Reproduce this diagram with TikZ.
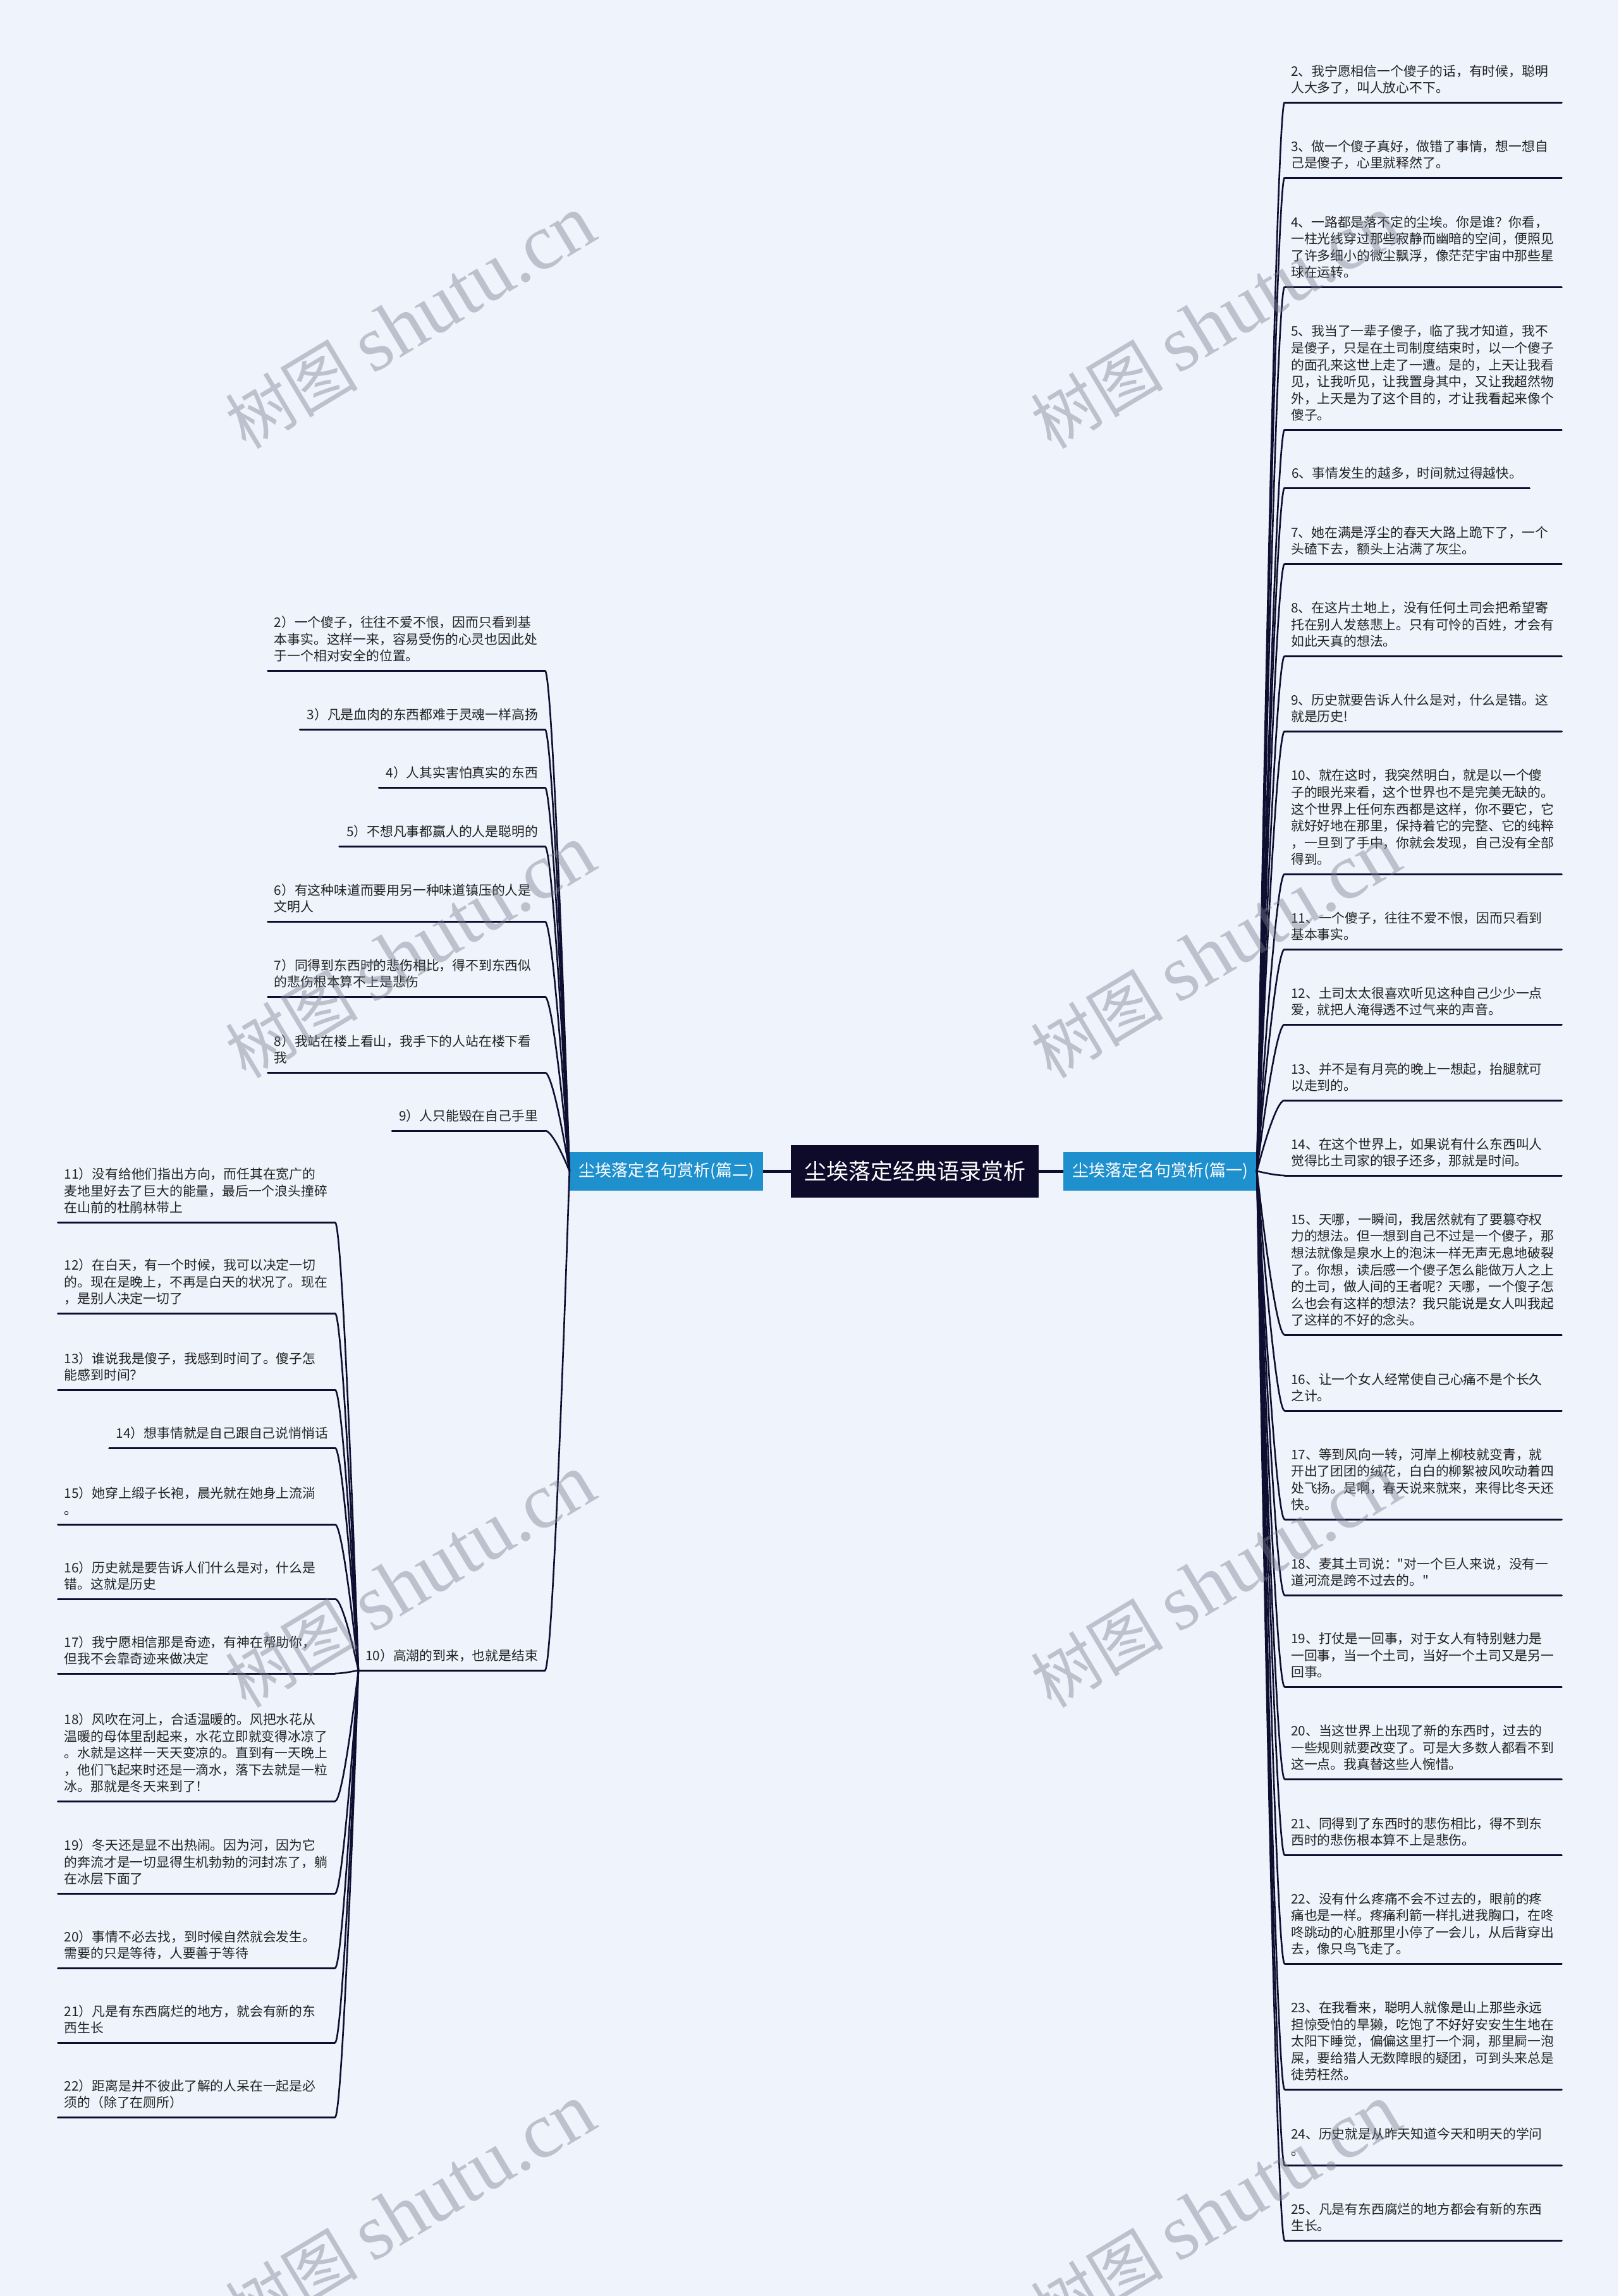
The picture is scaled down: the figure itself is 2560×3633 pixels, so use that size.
\documentclass[tikz,border=0pt]{standalone}
\usepackage{fontspec}
\setmainfont{Noto Sans CJK SC}
\newfontfamily\qfont{Noto Sans CJK SC}[Ligatures=TeXOff]
\newfontfamily\wmserif{Liberation Serif}
\usetikzlibrary{calc}
\definecolor{bgc}{RGB}{238,243,252}
\definecolor{navy}{RGB}{16,14,48}
\definecolor{titlec}{RGB}{14,10,42}
\definecolor{bluebox}{RGB}{30,144,206}
\definecolor{txt}{RGB}{34,34,34}
\definecolor{wm}{RGB}{120,126,140}
\newcommand\itemfont{\fontsize{20.8}{26.6}\selectfont}
\newcommand\sq{{\qfont"}}
\newcommand\mmconn[2]{\draw[conn] let \p1=(#1), \p2=(#2) in (\p1) .. controls ({\x1+0.2*(\x2-\x1)},{\y1+0.3*(\y2-\y1)}) and ({\x2-0.3*(\x2-\x1)},{\y2}) .. (\p2);}
\tikzset{
 ritem/.style={anchor=south west, inner xsep=11pt, inner ysep=7pt, align=left, font=\itemfont, text=txt, execute at end node=\strut},
 litem/.style={ritem, anchor=south east},
 wide/.style={text width=418pt, inner xsep=10pt},
 uline/.style={draw=navy, line width=3pt, line cap=round},
 conn/.style={draw=navy, line width=2.6pt},
 mainline/.style={draw=navy, line width=5pt},
 titlebox/.style={fill=titlec, text=white, minimum width=392pt, minimum height=83pt, inner sep=0pt, font=\fontsize{35}{40}\selectfont},
 branchbox/.style={fill=bluebox, text=white, minimum width=306pt, minimum height=61pt, inner sep=0pt, font=\fontsize{26}{30}\selectfont},
 wmark/.style={rotate=31, text=wm, opacity=0.42, font=\fontsize{105}{110}\selectfont, inner sep=0pt}
}
\begin{document}
\begin{tikzpicture}[x=1pt,y=-1pt]
\fill[bgc] (0,0) rectangle (2560,3633);
\useasboundingbox (0,0) rectangle (2560,3633);

% central nodes
\node[titlebox] (c) at (1447,1853) {尘埃落定经典语录赏析};
\node[branchbox] (n1) at (1835,1853) {尘埃落定名句赏析(篇一)};
\node[branchbox] (n2) at (1054,1853) {尘埃落定名句赏析(篇二)};
\draw[mainline] (c.west) -- (n2.east);
\draw[mainline] (c.east) -- (n1.west);

% right items
\node[ritem,wide] (r2) at (2032,162) {2、我宁愿相信一个傻子的话，有时候，聪明\\人大多了，叫人放心不下。};
\node[ritem,wide] (r3) at (2032,281) {3、做一个傻子真好，做错了事情，想一想自\\己是傻子，心里就释然了。};
\node[ritem,wide] (r4) at (2032,454) {4、一路都是落不定的尘埃。你是谁？你看，\\一柱光线穿过那些寂静而幽暗的空间，便照见\\了许多细小的微尘飘浮，像茫茫宇宙中那些星\\球在运转。};
\node[ritem,wide] (r5) at (2032,680) {5、我当了一辈子傻子，临了我才知道，我不\\是傻子，只是在土司制度结束时，以一个傻子\\的面孔来这世上走了一遭。是的，上天让我看\\见，让我听见，让我置身其中，又让我超然物\\外，上天是为了这个目的，才让我看起来像个\\傻子。};
\node[ritem] (r6) at (2032,772) {6、事情发生的越多，时间就过得越快。};
\node[ritem,wide] (r7) at (2032,892) {7、她在满是浮尘的春天大路上跪下了，一个\\头磕下去，额头上沾满了灰尘。};
\node[ritem,wide] (r8) at (2032,1038) {8、在这片土地上，没有任何土司会把希望寄\\托在别人发慈悲上。只有可怜的百姓，才会有\\如此天真的想法。};
\node[ritem,wide] (r9) at (2032,1157) {9、历史就要告诉人什么是对，什么是错。这\\就是历史!};
\node[ritem,wide] (r10) at (2032,1383) {10、就在这时，我突然明白，就是以一个傻\\子的眼光来看，这个世界也不是完美无缺的。\\这个世界上任何东西都是这样，你不要它，它\\就好好地在那里，保持着它的完整、它的纯粹\\，一旦到了手中，你就会发现，自己没有全部\\得到。};
\node[ritem,wide] (r11) at (2032,1502) {11、一个傻子，往往不爱不恨，因而只看到\\基本事实。};
\node[ritem,wide] (r12) at (2032,1621) {12、土司太太很喜欢听见这种自己少少一点\\爱，就把人淹得透不过气来的声音。};
\node[ritem,wide] (r13) at (2032,1741) {13、并不是有月亮的晚上一想起，抬腿就可\\以走到的。};
\node[ritem,wide] (r14) at (2032,1860) {14、在这个世界上，如果说有什么东西叫人\\觉得比土司家的银子还多，那就是时间。};
\node[ritem,wide] (r15) at (2032,2112) {15、天哪，一瞬间，我居然就有了要篡夺权\\力的想法。但一想到自己不过是一个傻子，那\\想法就像是泉水上的泡沫一样无声无息地破裂\\了。你想，读后感一个傻子怎么能做万人之上\\的土司，做人间的王者呢？天哪，一个傻子怎\\么也会有这样的想法？我只能说是女人叫我起\\了这样的不好的念头。};
\node[ritem,wide] (r16) at (2032,2232) {16、让一个女人经常使自己心痛不是个长久\\之计。};
\node[ritem,wide] (r17) at (2032,2404) {17、等到风向一转，河岸上柳枝就变青，就\\开出了团团的绒花，白白的柳絮被风吹动着四\\处飞扬。是啊，春天说来就来，来得比冬天还\\快。};
\node[ritem,wide] (r18) at (2032,2524) {18、麦其土司说：\sq 对一个巨人来说，没有一\\道河流是跨不过去的。\sq};
\node[ritem,wide] (r19) at (2032,2669) {19、打仗是一回事，对于女人有特别魅力是\\一回事，当一个土司，当好一个土司又是另一\\回事。};
\node[ritem,wide] (r20) at (2032,2815) {20、当这世界上出现了新的东西时，过去的\\一些规则就要改变了。可是大多数人都看不到\\这一点。我真替这些人惋惜。};
\node[ritem,wide] (r21) at (2032,2935) {21、同得到了东西时的悲伤相比，得不到东\\西时的悲伤根本算不上是悲伤。};
\node[ritem,wide] (r22) at (2032,3107) {22、没有什么疼痛不会不过去的，眼前的疼\\痛也是一样。疼痛利箭一样扎进我胸口，在咚\\咚跳动的心脏那里小停了一会儿，从后背穿出\\去，像只鸟飞走了。};
\node[ritem,wide] (r23) at (2032,3306) {23、在我看来，聪明人就像是山上那些永远\\担惊受怕的旱獭，吃饱了不好好安安生生地在\\太阳下睡觉，偏偏这里打一个洞，那里屙一泡\\屎，要给猎人无数障眼的疑团，可到头来总是\\徒劳枉然。};
\node[ritem,wide] (r24) at (2032,3426) {24、历史就是从昨天知道今天和明天的学问\\。};
\node[ritem,wide] (r25) at (2032,3545) {25、凡是有东西腐烂的地方都会有新的东西\\生长。};

% left upper items
\node[litem,wide] (l2) at (862,1061) {2）一个傻子，往往不爱不恨，因而只看到基\\本事实。这样一来，容易受伤的心灵也因此处\\于一个相对安全的位置。};
\node[litem] (l3) at (862,1154) {3）凡是血肉的东西都难于灵魂一样高扬};
\node[litem] (l4) at (862,1246) {4）人其实害怕真实的东西};
\node[litem] (l5) at (862,1339) {5）不想凡事都赢人的人是聪明的};
\node[litem,wide] (l6) at (862,1458) {6）有这种味道而要用另一种味道镇压的人是\\文明人};
\node[litem,wide] (l7) at (862,1577) {7）同得到东西时的悲伤相比，得不到东西似\\的悲伤根本算不上是悲伤};
\node[litem,wide] (l8) at (862,1697) {8）我站在楼上看山，我手下的人站在楼下看\\我};
\node[litem] (l9) at (862,1789) {9）人只能毁在自己手里};
\node[litem] (l10) at (862,2643) {10）高潮的到来，也就是结束};

% left lower items
\node[litem,wide] (m11) at (530,1934) {11）没有给他们指出方向，而任其在宽广的\\麦地里好去了巨大的能量，最后一个浪头撞碎\\在山前的杜鹃林带上};
\node[litem,wide] (m12) at (530,2078) {12）在白天，有一个时候，我可以决定一切\\的。现在是晚上，不再是白天的状况了。现在\\，是别人决定一切了};
\node[litem,wide] (m13) at (530,2199) {13）谁说我是傻子，我感到时间了。傻子怎\\能感到时间？};
\node[litem] (m14) at (530,2291) {14）想事情就是自己跟自己说悄悄话};
\node[litem,wide] (m15) at (530,2412) {15）她穿上缎子长袍，晨光就在她身上流淌\\。};
\node[litem,wide] (m16) at (530,2530) {16）历史就是要告诉人们什么是对，什么是\\错。这就是历史};
\node[litem,wide] (m17) at (530,2648) {17）我宁愿相信那是奇迹，有神在帮助你，\\但我不会靠奇迹来做决定};
\node[litem,wide] (m18) at (530,2850) {18）风吹在河上，合适温暖的。风把水花从\\温暖的母体里刮起来，水花立即就变得冰凉了\\。水就是这样一天天变凉的。直到有一天晚上\\，他们飞起来时还是一滴水，落下去就是一粒\\冰。那就是冬天来到了！};
\node[litem,wide] (m19) at (530,2996) {19）冬天还是显不出热闹。因为河，因为它\\的奔流才是一切显得生机勃勃的河封冻了，躺\\在冰层下面了};
\node[litem,wide] (m20) at (530,3114) {20）事情不必去找，到时候自然就会发生。\\需要的只是等待，人要善于等待};
\node[litem,wide] (m21) at (530,3232) {21）凡是有东西腐烂的地方，就会有新的东\\西生长};
\node[litem,wide] (m22) at (530,3350) {22）距离是并不彼此了解的人呆在一起是必\\须的（除了在厕所）};

% connectors
\foreach \k in {2,...,25} {\mmconn{n1.east}{r\k.south west}}
\foreach \k in {2,...,10} {\mmconn{n2.west}{l\k.south east}}
\foreach \k in {11,...,22} {\mmconn{l10.south west}{m\k.south east}}

% underlines
\foreach \k in {2,...,25} {\draw[uline] (r\k.south west) -- (r\k.south east);}
\foreach \k in {2,...,10} {\draw[uline] (l\k.south west) -- (l\k.south east);}
\foreach \k in {11,...,22} {\draw[uline] (m\k.south west) -- (m\k.south east);}

% watermarks
\node[wmark] (wm1) at (649,510) {树图 {\wmserif\fontsize{125}{130}\selectfont shutu.cn}};
\node[wmark] (wm2) at (1923,510) {树图 {\wmserif\fontsize{125}{130}\selectfont shutu.cn}};
\node[wmark] (wm3) at (649,1506) {树图 {\wmserif\fontsize{125}{130}\selectfont shutu.cn}};
\node[wmark] (wm4) at (1923,1506) {树图 {\wmserif\fontsize{125}{130}\selectfont shutu.cn}};
\node[wmark] (wm5) at (649,2502) {树图 {\wmserif\fontsize{125}{130}\selectfont shutu.cn}};
\node[wmark] (wm6) at (1923,2502) {树图 {\wmserif\fontsize{125}{130}\selectfont shutu.cn}};
\node[wmark] (wm7) at (649,3498) {树图 {\wmserif\fontsize{125}{130}\selectfont shutu.cn}};
\node[wmark] (wm8) at (1923,3498) {树图 {\wmserif\fontsize{125}{130}\selectfont shutu.cn}};
\end{tikzpicture}
\end{document}
